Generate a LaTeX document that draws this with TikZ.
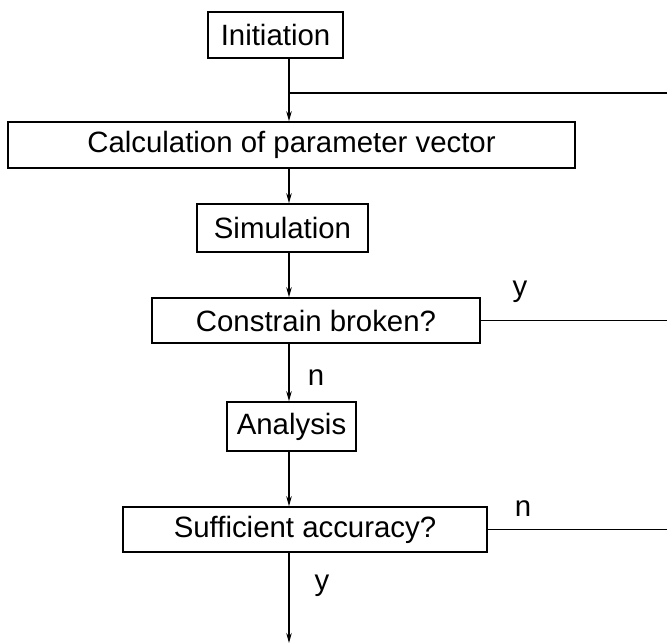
\documentclass[tikz,border=0pt]{standalone}
\usepackage{fontspec}
\setmainfont{Liberation Sans}
\usetikzlibrary{arrows.meta}
\begin{document}
\begin{tikzpicture}[x=1bp,y=-1bp,
  box/.style={draw, line width=1.6bp, inner sep=0pt, font=\fontsize{29.5}{34}\selectfont},
  flow/.style={line width=1.1bp, -{Stealth[length=10bp,width=5.5bp]}},
  wire/.style={line width=1.1bp},
  lbl/.style={font=\fontsize{29.5}{34}\selectfont, inner sep=0pt}]
\useasboundingbox (0,0) rectangle (667,644);

% process boxes
\node[box, minimum width=135bp, minimum height=46bp] (init) at (275.5,35) {Initiation};
\node[box, minimum width=567bp, minimum height=46bp] (calc) at (291.5,145) {Calculation of parameter vector};
\node[box, minimum width=171bp, minimum height=48bp] (sim)  at (282.5,228) {Simulation};
\node[box, minimum width=328bp, minimum height=45bp] (con)  at (316,320.5) {Constrain broken?};
\node[box, minimum width=129bp, minimum height=49bp] (ana)  at (291.5,426.5) {Analysis};
\node[box, minimum width=364bp, minimum height=45bp] (suf)  at (305,529.5) {Sufficient accuracy?};

% main flow axis, loop-back junction and exits
\coordinate (spine) at (289,0);
\coordinate (j1) at (289,93);
\coordinate (edge) at (667,93);
\coordinate (out) at (289,643);

\draw[wire] (init.south -| spine) -- (j1);
\draw[flow] (j1) -- (calc.north -| spine);
\draw[wire] (j1) -- (edge);
\draw[flow] (calc.south -| spine) -- (sim.north -| spine);
\draw[flow] (sim.south -| spine) -- (con.north -| spine);
\draw[flow] (con.south -| spine) -- (ana.north -| spine);
\draw[flow] (ana.south -| spine) -- (suf.north -| spine);
\draw[flow] (suf.south -| spine) -- (out);
\draw[wire] (con.east) -- (con.east -| edge);
\draw[wire] (suf.east) -- (suf.east -| edge);

% branch labels
\node[lbl] (ly1) at (520,292) {y};
\node[lbl] (ln1) at (316,378) {n};
\node[lbl] (ln2) at (523,509) {n};
\node[lbl] (ly2) at (322,586) {y};
\end{tikzpicture}
\end{document}
